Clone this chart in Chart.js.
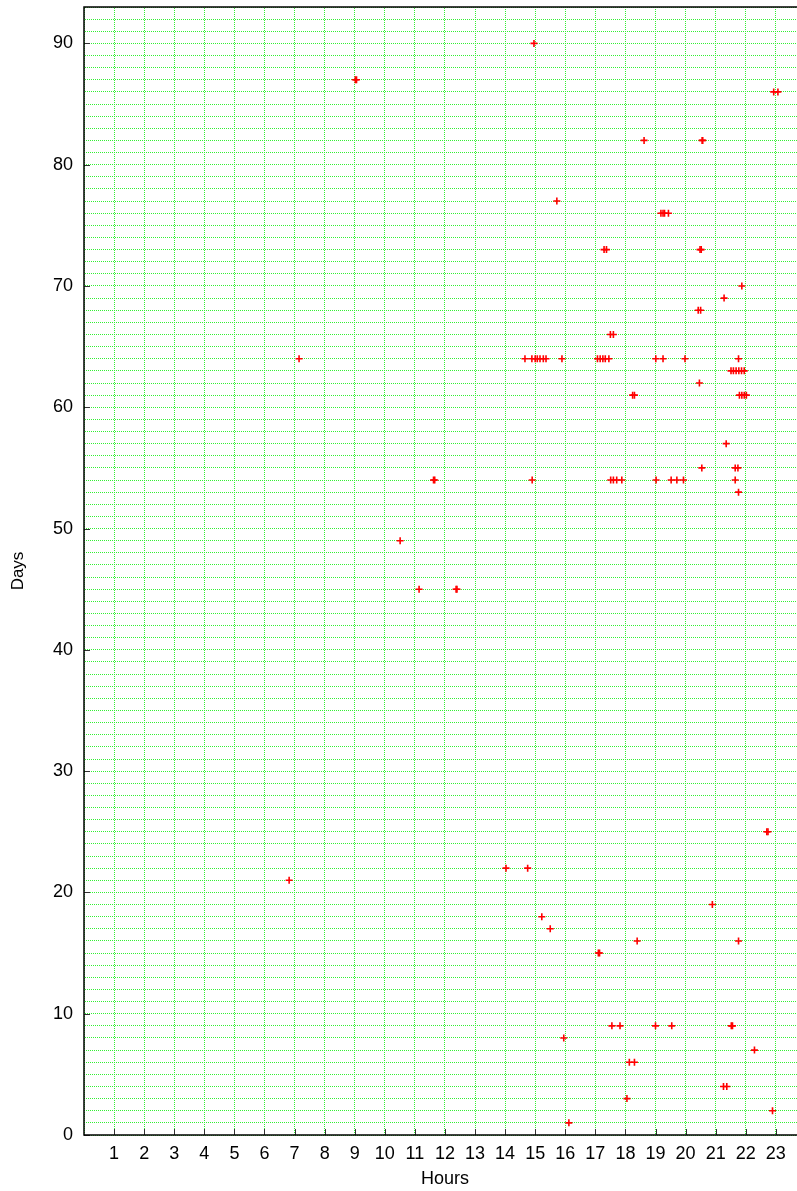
<!DOCTYPE html>
<html>
<head>
<meta charset="utf-8">
<script src="https://cdn.jsdelivr.net/npm/chart.js@4/dist/chart.umd.min.js"></script>
<style>
  html, body { margin: 0; padding: 0; overflow: hidden; background: #fff; }
  #wrap { width: 811px; height: 1191px; }
</style>
</head>
<body>
<div id="wrap"><canvas id="c" width="811" height="1191"></canvas></div>
<script>
// Hour of day (x) and day number (y) of each event
const hours = [
  14.96,
  9.02, 9.06,
  22.93, 23.07,
  18.62, 20.55, 20.57,
  15.72,
  19.18, 19.25, 19.30, 19.43,
  17.29, 17.37, 20.48, 20.52,
  21.87,
  21.28,
  20.42, 20.50,
  17.50, 17.60,
  7.15, 14.66, 14.89, 15.00, 15.07, 15.16, 15.27, 15.36, 15.89, 17.07, 17.16, 17.25, 17.33, 17.45, 19.01, 19.25, 19.98, 21.76,
  21.51, 21.59, 21.68, 21.77, 21.86, 21.95,
  20.46,
  18.24, 18.30, 21.79, 21.87, 21.95, 22.02,
  21.35,
  20.54, 21.65, 21.74,
  11.62, 11.66, 14.90, 17.51, 17.60, 17.71, 17.88, 19.02, 19.52, 19.71, 19.93, 21.65,
  21.76,
  10.51,
  11.14, 12.37, 12.40,
  22.70, 22.74,
  14.03, 14.75,
  6.82,
  20.89,
  15.22,
  15.50,
  18.39, 21.76,
  17.10, 17.14,
  17.55, 17.82, 19.00, 19.54, 21.52, 21.56,
  15.95,
  22.29,
  18.13, 18.30,
  21.26, 21.37,
  18.05,
  22.89,
  16.12
];
const days = [
  90,
  87, 87,
  86, 86,
  82, 82, 82,
  77,
  76, 76, 76, 76,
  73, 73, 73, 73,
  70,
  69,
  68, 68,
  66, 66,
  64, 64, 64, 64, 64, 64, 64, 64, 64, 64, 64, 64, 64, 64, 64, 64, 64, 64,
  63, 63, 63, 63, 63, 63,
  62,
  61, 61, 61, 61, 61, 61,
  57,
  55, 55, 55,
  54, 54, 54, 54, 54, 54, 54, 54, 54, 54, 54, 54,
  53,
  49,
  45, 45, 45,
  25, 25,
  22, 22,
  21,
  19,
  18,
  17,
  16, 16,
  15, 15,
  9, 9, 9, 9, 9, 9,
  8,
  7,
  6, 6,
  4, 4,
  3,
  2,
  1
];
const xTickLabels = [1, 2, 3, 4, 5, 6, 7, 8, 9, 10, 11, 12, 13, 14, 15, 16, 17, 18, 19, 20, 21, 22, 23];
const yTickLabels = [0, 10, 20, 30, 40, 50, 60, 70, 80, 90];
const xTitle = 'Hours';
const yTitle = 'Days';

const points = hours.map((h, i) => ({ x: h, y: days[i] }));

// dotted green grid: a 2x2 checkerboard pattern used as the grid line colour
function makeDotPattern() {
  const p = document.createElement('canvas');
  p.width = 2; p.height = 2;
  const g = p.getContext('2d');
  g.fillStyle = '#ffffff';
  g.fillRect(0, 0, 2, 2);
  g.fillStyle = '#33f033';
  g.fillRect(0, 0, 1, 1);
  g.fillRect(1, 1, 1, 1);
  return p.getContext('2d').createPattern(p, 'repeat');
}
const gridColor = makeDotPattern();
const font = { family: '"Liberation Sans", Arial, sans-serif', size: 18 };

const framePlugin = {
  id: 'frame',
  beforeDatasetsDraw(chart) {
    const { ctx, chartArea: a, scales: { x, y } } = chart;
    ctx.save();
    ctx.strokeStyle = '#333';
    ctx.lineWidth = 1;
    ctx.beginPath();
    yTickLabels.forEach(v => {
      const py = Math.round(y.getPixelForValue(v)) + 0.5;
      ctx.moveTo(a.left, py); ctx.lineTo(a.left + 6, py);
    });
    xTickLabels.forEach(v => {
      const px = Math.round(x.getPixelForValue(v)) + 0.5;
      ctx.moveTo(px, a.bottom); ctx.lineTo(px, a.bottom - 6);
    });
    ctx.stroke();
    ctx.strokeStyle = '#000';
    ctx.lineWidth = 1.5;
    ctx.beginPath();
    ctx.moveTo(a.right, a.top);
    ctx.lineTo(a.left, a.top);
    ctx.lineTo(a.left, a.bottom);
    ctx.lineTo(a.right, a.bottom);
    ctx.stroke();
    ctx.restore();
  }
};

new Chart(document.getElementById('c'), {
  type: 'scatter',
  data: {
    datasets: [{
      data: points,
      pointStyle: 'cross',
      pointRadius: 3.5,
      pointHoverRadius: 3.5,
      borderColor: '#ff0000',
      backgroundColor: '#ff0000',
      borderWidth: 1.6
    }]
  },
  options: {
    responsive: false,
    animation: false,
    events: [],
    layout: { padding: { top: 7, left: 0, right: 0, bottom: 0 } },
    plugins: { legend: { display: false }, tooltip: { enabled: false } },
    scales: {
      x: {
        type: 'linear',
        min: 0,
        max: 24,
        afterFit(s) { s.height = 56; s.paddingLeft = 0; s.paddingRight = 0; },
        grid: { color: gridColor, lineWidth: 1, drawTicks: false },
        border: { display: false },
        ticks: {
          stepSize: 1,
          autoSkip: false,
          maxRotation: 0,
          padding: 8,
          color: '#000',
          font: font,
          callback: v => xTickLabels.includes(v) ? String(v) : ''
        },
        title: { display: true, text: xTitle, color: '#000', font: font, padding: { top: 0, bottom: 1 } }
      },
      y: {
        type: 'linear',
        min: 0,
        max: 93,
        afterFit(s) { s.width = 84; s.paddingTop = 0; s.paddingBottom = 0; },
        grid: { color: gridColor, lineWidth: 1, drawTicks: false },
        border: { display: false },
        ticks: {
          stepSize: 1,
          autoSkip: false,
          maxTicksLimit: 200,
          padding: 11,
          color: '#000',
          font: font,
          callback: v => yTickLabels.includes(v) ? String(v) : ''
        },
        title: { display: true, text: yTitle, color: '#000', font: { family: font.family, size: 17 }, padding: { top: 8, bottom: 0 } }
      }
    }
  },
  plugins: [framePlugin]
});
</script>
</body>
</html>
